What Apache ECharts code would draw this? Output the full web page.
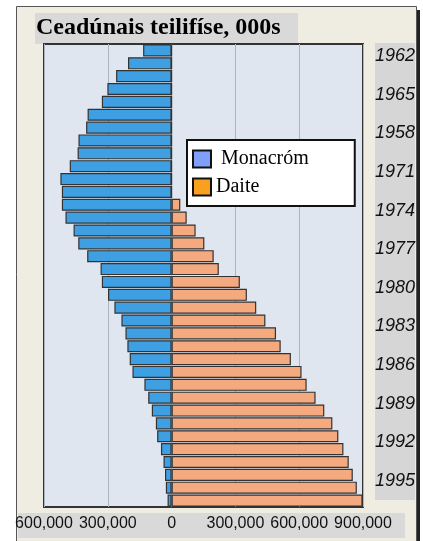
<!DOCTYPE html>
<html>
<head>
<meta charset="utf-8">
<script src="https://cdn.jsdelivr.net/npm/echarts@6/dist/echarts.min.js"></script>
<style>
html,body{margin:0;padding:0;background:#fff;}
#chart{width:423px;height:541px;}
</style>
</head>
<body>
<div id="chart"></div>
<script>
// Categories (top to bottom)
const years = [1961,1962,1963,1964,1965,1966,1967,1968,1969,1970,1971,1972,1973,1974,1975,1976,1977,1978,1979,1980,1981,1982,1983,1984,1985,1986,1987,1988,1989,1990,1991,1992,1993,1994,1995,1996];
// Series values (licences)
const monacrom = [134000,205000,261000,302000,328000,395000,402000,438000,442000,479000,523000,516000,516000,499000,461000,439000,397000,334000,328000,299000,269000,236000,217000,208000,197000,184000,128000,110000,93000,74000,68000,50000,38000,31000,27000,19000];
const daite = [0,0,0,0,0,0,0,0,0,0,0,0,41000,71000,113000,154000,198000,222000,321000,354000,398000,441000,491000,513000,561000,611000,635000,677000,718000,756000,784000,808000,833000,852000,871000,898000];
// Tick labels
const tickYears = [1962,1965,1968,1971,1974,1977,1980,1983,1986,1989,1992,1995];
const tickYearLabels = ['1962','1965','1958','1971','1974','1977','1980','1983','1986','1989','1992','1995'];
const xTicks = [-600000,-300000,0,300000,600000,900000];
const xTickLabels = ['600,000','300,000','0','300,000','600,000','900,000'];

const chart = echarts.init(document.getElementById('chart'), null, {renderer:'canvas'});
chart.setOption({
  backgroundColor:'#ffffff',
  animation:false,
  graphic:[
    {type:'rect', z:-10, silent:true, shape:{x:416,y:10,width:4,height:531}, style:{fill:'#222'}},
    {type:'rect', z:-9, silent:true, shape:{x:16.5,y:6.5,width:400,height:540}, style:{fill:'#efede1', stroke:'#555', lineWidth:1}},
    {type:'rect', z:-8, silent:true, shape:{x:35,y:13,width:263,height:31}, style:{fill:'#d9d9d9'}},
    {type:'rect', z:-8, silent:true, shape:{x:375,y:43,width:40,height:457}, style:{fill:'#d6d6d6'}},
    {type:'rect', z:-8, silent:true, shape:{x:18,y:513,width:387,height:25}, style:{fill:'#d9d9d9'}}
  ],
  title:{
    text:'Ceadúnais teilifíse, 000s',
    left:36, top:16, padding:0,
    textStyle:{fontFamily:'Liberation Serif', fontWeight:'bold', fontSize:24, color:'#000', lineHeight:24}
  },
  legend:{
    left:187, top:140,
    orient:'vertical',
    backgroundColor:'#fff',
    borderColor:'#111', borderWidth:2, borderRadius:0,
    padding:[9,46,9,5],
    itemGap:8,
    itemWidth:18, itemHeight:17,
    itemStyle:{borderColor:'#111', borderWidth:2},
    icon:'rect',
    textStyle:{fontFamily:'Liberation Serif', fontSize:20, color:'#000', lineHeight:20},
    formatter:function(n){ return n==='Monacróm' ? ' '+n : n; },
    data:[
      {name:'Monacróm', itemStyle:{color:'#7f9ffb'}},
      {name:'Daite', itemStyle:{color:'#f9a01e'}}
    ]
  },
  grid:{left:44, right:60, top:44, bottom:34, show:true, backgroundColor:'#dfe6f0', borderColor:'#333', borderWidth:2, containLabel:false},
  xAxis:{
    type:'value', min:-600000, max:900000, interval:300000,
    axisLine:{show:false}, axisTick:{show:false},
    splitLine:{show:true, lineStyle:{color:'#a9b5c3', width:1}},
    axisLabel:{
      margin:9,
      fontFamily:'Liberation Sans', fontSize:16, color:'#111',
      formatter:function(v){ const i = xTicks.indexOf(v); return i>=0 ? xTickLabels[i] : ''; }
    }
  },
  yAxis:{
    type:'category', data:years.map(String), inverse:true, position:'right',
    axisLine:{show:false}, axisTick:{show:false}, splitLine:{show:false},
    axisLabel:{
      interval:function(idx, val){ return tickYears.indexOf(+val) >= 0; },
      formatter:function(val){ const i = tickYears.indexOf(+val); return i>=0 ? tickYearLabels[i] : ''; },
      align:'right', margin:52, verticalAlign:'bottom',
      fontFamily:'Liberation Sans', fontStyle:'italic', fontSize:18, color:'#111', lineHeight:14
    }
  },
  series:[
    {
      name:'Monacróm', type:'bar',
      data:monacrom.map(v=>-v),
      barGap:'-100%', barCategoryGap:'6%',
      itemStyle:{color:'#3e9fe3', borderColor:'#333', borderWidth:1.2}
    },
    {
      name:'Daite', type:'bar',
      data:daite,
      barGap:'-100%', barCategoryGap:'6%',
      itemStyle:{color:'#f4aa7e', borderColor:'#333', borderWidth:1.2}
    }
  ]
});
</script>
</body>
</html>
